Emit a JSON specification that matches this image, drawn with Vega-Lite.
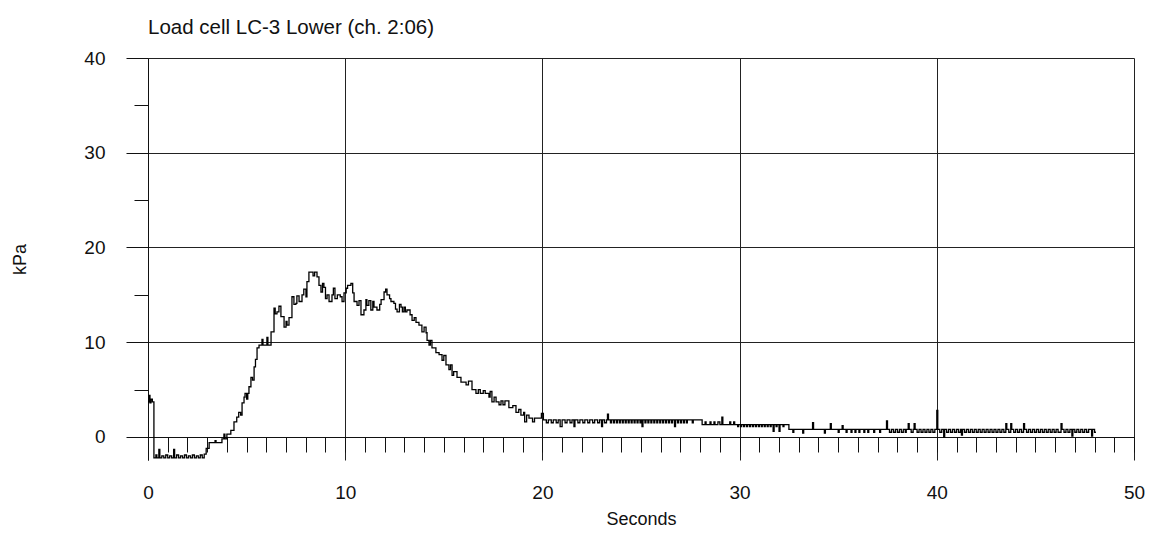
{
  "$schema": "https://vega.github.io/schema/vega-lite/v6.json",
  "width": 986,
  "height": 402,
  "autosize": "none",
  "padding": {"left": 148, "top": 58, "right": 23, "bottom": 73},
  "background": "white",
  "title": {"text": "Load cell LC-3 Lower (ch. 2:06)", "anchor": "start", "frame": "group", "font": "Liberation Sans", "fontSize": 20.5, "fontWeight": "normal", "color": "#111", "offset": 11},
  "data": {"values": [
    {"t":0.00,"kPa":3.7},{"t":0.05,"kPa":4.4},{"t":0.10,"kPa":3.6},{"t":0.15,"kPa":4.0},{"t":0.22,"kPa":3.7},
    {"t":0.30,"kPa":-2.2},{"t":0.40,"kPa":-1.9},{"t":0.45,"kPa":-2.2},{"t":0.55,"kPa":-1.3},{"t":0.60,"kPa":-2.2},
    {"t":0.70,"kPa":-2.0},{"t":0.80,"kPa":-2.2},{"t":0.90,"kPa":-1.9},{"t":1.00,"kPa":-2.2},{"t":1.10,"kPa":-2.0},
    {"t":1.20,"kPa":-2.2},{"t":1.30,"kPa":-1.3},{"t":1.35,"kPa":-2.2},{"t":1.45,"kPa":-1.9},{"t":1.55,"kPa":-2.2},
    {"t":1.65,"kPa":-2.0},{"t":1.75,"kPa":-2.2},{"t":1.85,"kPa":-1.9},{"t":1.95,"kPa":-2.2},{"t":2.05,"kPa":-2.0},
    {"t":2.15,"kPa":-2.2},{"t":2.25,"kPa":-1.9},{"t":2.35,"kPa":-2.2},{"t":2.45,"kPa":-2.0},{"t":2.55,"kPa":-2.2},
    {"t":2.65,"kPa":-1.9},{"t":2.75,"kPa":-2.2},{"t":2.85,"kPa":-1.8},{"t":2.95,"kPa":-1.2},{"t":3.10,"kPa":-0.6},
    {"t":3.40,"kPa":-0.4},{"t":3.45,"kPa":-0.6},{"t":3.75,"kPa":-0.2},{"t":3.85,"kPa":0.3},{"t":3.90,"kPa":-0.2},
    {"t":4.00,"kPa":0.3},{"t":4.20,"kPa":0.7},{"t":4.36,"kPa":1.6},{"t":4.50,"kPa":2.1},{"t":4.60,"kPa":2.6},
    {"t":4.70,"kPa":2.3},{"t":4.77,"kPa":3.6},{"t":4.87,"kPa":4.2},{"t":4.92,"kPa":4.6},{"t":5.00,"kPa":4.0},
    {"t":5.06,"kPa":4.6},{"t":5.12,"kPa":5.3},{"t":5.22,"kPa":6.3},{"t":5.30,"kPa":6.0},{"t":5.38,"kPa":7.4},
    {"t":5.45,"kPa":8.2},{"t":5.53,"kPa":9.4},{"t":5.63,"kPa":9.7},{"t":5.78,"kPa":10.3},{"t":5.83,"kPa":9.7},
    {"t":6.03,"kPa":10.5},{"t":6.08,"kPa":9.7},{"t":6.24,"kPa":11.1},{"t":6.39,"kPa":13.6},{"t":6.45,"kPa":13.0},
    {"t":6.54,"kPa":13.2},{"t":6.64,"kPa":13.8},{"t":6.74,"kPa":12.7},{"t":6.90,"kPa":11.6},{"t":7.00,"kPa":12.2},
    {"t":7.05,"kPa":11.8},{"t":7.15,"kPa":12.6},{"t":7.30,"kPa":14.8},{"t":7.40,"kPa":14.0},{"t":7.50,"kPa":14.1},
    {"t":7.55,"kPa":14.9},{"t":7.66,"kPa":14.3},{"t":7.81,"kPa":15.0},{"t":7.90,"kPa":15.6},{"t":8.01,"kPa":14.8},
    {"t":8.06,"kPa":16.4},{"t":8.16,"kPa":17.4},{"t":8.37,"kPa":17.0},{"t":8.45,"kPa":17.4},{"t":8.57,"kPa":16.9},
    {"t":8.67,"kPa":16.0},{"t":8.77,"kPa":15.3},{"t":8.85,"kPa":16.2},{"t":8.92,"kPa":15.8},{"t":9.00,"kPa":14.6},
    {"t":9.08,"kPa":15.0},{"t":9.18,"kPa":14.3},{"t":9.33,"kPa":15.0},{"t":9.40,"kPa":15.7},{"t":9.48,"kPa":14.6},
    {"t":9.60,"kPa":15.0},{"t":9.75,"kPa":14.8},{"t":9.84,"kPa":14.3},{"t":9.94,"kPa":15.2},{"t":10.05,"kPa":15.7},
    {"t":10.12,"kPa":16.0},{"t":10.29,"kPa":16.2},{"t":10.38,"kPa":15.2},{"t":10.45,"kPa":14.3},{"t":10.60,"kPa":13.9},
    {"t":10.70,"kPa":14.4},{"t":10.80,"kPa":12.9},{"t":10.95,"kPa":13.4},{"t":11.05,"kPa":14.5},{"t":11.10,"kPa":13.9},
    {"t":11.20,"kPa":14.4},{"t":11.30,"kPa":13.4},{"t":11.40,"kPa":14.3},{"t":11.46,"kPa":13.7},{"t":11.61,"kPa":13.4},
    {"t":11.75,"kPa":14.0},{"t":11.82,"kPa":14.5},{"t":11.97,"kPa":15.3},{"t":12.05,"kPa":15.6},{"t":12.12,"kPa":15.0},
    {"t":12.25,"kPa":14.6},{"t":12.32,"kPa":14.3},{"t":12.47,"kPa":14.1},{"t":12.55,"kPa":13.5},{"t":12.63,"kPa":13.2},
    {"t":12.75,"kPa":14.0},{"t":12.83,"kPa":13.7},{"t":12.90,"kPa":13.2},{"t":12.98,"kPa":13.7},{"t":13.05,"kPa":13.2},
    {"t":13.13,"kPa":13.4},{"t":13.29,"kPa":12.9},{"t":13.39,"kPa":12.3},{"t":13.50,"kPa":12.6},{"t":13.59,"kPa":12.1},
    {"t":13.74,"kPa":11.8},{"t":13.89,"kPa":11.1},{"t":14.00,"kPa":11.6},{"t":14.10,"kPa":11.0},{"t":14.15,"kPa":10.2},
    {"t":14.25,"kPa":9.7},{"t":14.32,"kPa":10.2},{"t":14.40,"kPa":9.4},{"t":14.60,"kPa":8.9},{"t":14.76,"kPa":8.7},
    {"t":14.91,"kPa":8.1},{"t":15.00,"kPa":8.6},{"t":15.11,"kPa":7.6},{"t":15.26,"kPa":7.1},{"t":15.34,"kPa":7.6},
    {"t":15.42,"kPa":6.5},{"t":15.50,"kPa":6.9},{"t":15.67,"kPa":6.3},{"t":15.87,"kPa":5.8},{"t":16.13,"kPa":5.5},
    {"t":16.25,"kPa":5.9},{"t":16.43,"kPa":5.0},{"t":16.63,"kPa":4.6},{"t":16.75,"kPa":5.0},{"t":16.85,"kPa":4.6},
    {"t":17.00,"kPa":4.9},{"t":17.10,"kPa":4.6},{"t":17.29,"kPa":4.2},{"t":17.35,"kPa":4.8},{"t":17.44,"kPa":3.7},
    {"t":17.55,"kPa":4.2},{"t":17.65,"kPa":3.7},{"t":17.80,"kPa":3.4},{"t":17.90,"kPa":3.8},{"t":18.00,"kPa":3.4},
    {"t":18.10,"kPa":3.8},{"t":18.30,"kPa":3.1},{"t":18.50,"kPa":3.3},{"t":18.66,"kPa":2.6},{"t":18.80,"kPa":2.9},
    {"t":18.91,"kPa":2.3},{"t":19.05,"kPa":2.6},{"t":19.10,"kPa":1.6},{"t":19.20,"kPa":2.3},{"t":19.32,"kPa":2.0},
    {"t":19.50,"kPa":1.6},{"t":19.60,"kPa":2.0},{"t":19.95,"kPa":2.5},{"t":20.05,"kPa":1.8},
    {"t":20.20,"kPa":1.5},{"t":20.30,"kPa":1.8},{"t":20.45,"kPa":1.5},{"t":20.55,"kPa":1.8},{"t":20.70,"kPa":1.5},
    {"t":20.80,"kPa":1.8},{"t":20.90,"kPa":1.1},{"t":21.00,"kPa":1.8},{"t":21.15,"kPa":1.5},{"t":21.25,"kPa":1.8},
    {"t":21.40,"kPa":1.5},{"t":21.50,"kPa":1.8},{"t":21.60,"kPa":1.1},{"t":21.65,"kPa":1.8},{"t":21.80,"kPa":1.5},
    {"t":21.90,"kPa":1.8},{"t":22.05,"kPa":1.5},{"t":22.15,"kPa":1.8},{"t":22.30,"kPa":1.5},{"t":22.40,"kPa":1.8},
    {"t":22.55,"kPa":1.5},{"t":22.65,"kPa":1.8},{"t":22.80,"kPa":1.5},{"t":22.90,"kPa":1.8},{"t":23.00,"kPa":1.1},
    {"t":23.05,"kPa":1.8},{"t":23.15,"kPa":1.5},{"t":23.25,"kPa":1.8},{"t":23.30,"kPa":2.4},{"t":23.35,"kPa":1.8},
    {"t":23.45,"kPa":1.5},{"t":23.50,"kPa":1.8},{"t":23.60,"kPa":1.5},{"t":23.65,"kPa":1.8},{"t":23.75,"kPa":1.5},
    {"t":23.80,"kPa":1.8},{"t":23.90,"kPa":1.5},{"t":23.95,"kPa":1.8},{"t":24.05,"kPa":1.5},{"t":24.10,"kPa":1.8},
    {"t":24.20,"kPa":1.5},{"t":24.25,"kPa":1.8},{"t":24.35,"kPa":1.5},{"t":24.40,"kPa":1.8},{"t":24.50,"kPa":1.5},
    {"t":24.55,"kPa":1.8},{"t":24.65,"kPa":1.5},{"t":24.70,"kPa":1.8},{"t":24.80,"kPa":1.5},{"t":24.85,"kPa":1.8},
    {"t":24.95,"kPa":1.5},{"t":25.00,"kPa":1.8},{"t":25.05,"kPa":1.1},{"t":25.10,"kPa":1.8},{"t":25.20,"kPa":1.5},
    {"t":25.25,"kPa":1.8},{"t":25.35,"kPa":1.5},{"t":25.40,"kPa":1.8},{"t":25.50,"kPa":1.5},{"t":25.55,"kPa":1.8},
    {"t":25.65,"kPa":1.5},{"t":25.70,"kPa":1.8},{"t":25.80,"kPa":1.5},{"t":25.85,"kPa":1.8},{"t":25.95,"kPa":1.5},
    {"t":26.00,"kPa":1.8},{"t":26.10,"kPa":1.5},{"t":26.15,"kPa":1.8},{"t":26.25,"kPa":1.5},{"t":26.30,"kPa":1.8},
    {"t":26.40,"kPa":1.5},{"t":26.45,"kPa":1.8},{"t":26.55,"kPa":1.5},{"t":26.60,"kPa":1.8},{"t":26.70,"kPa":1.1},
    {"t":26.75,"kPa":1.8},{"t":26.85,"kPa":1.5},{"t":26.90,"kPa":1.8},{"t":27.00,"kPa":1.5},{"t":27.05,"kPa":1.8},
    {"t":27.15,"kPa":1.5},{"t":27.20,"kPa":1.8},{"t":27.30,"kPa":1.5},{"t":27.35,"kPa":1.8},{"t":27.60,"kPa":1.5},
    {"t":27.65,"kPa":1.8},{"t":28.10,"kPa":1.3},{"t":28.25,"kPa":1.6},{"t":28.30,"kPa":1.3},{"t":28.50,"kPa":1.6},
    {"t":28.55,"kPa":1.3},{"t":28.70,"kPa":1.6},{"t":28.75,"kPa":1.3},{"t":28.90,"kPa":1.6},{"t":29.00,"kPa":1.3},
    {"t":29.10,"kPa":2.1},{"t":29.15,"kPa":1.3},{"t":29.50,"kPa":1.6},{"t":29.55,"kPa":1.3},{"t":29.70,"kPa":1.6},
    {"t":29.75,"kPa":1.3},{"t":29.90,"kPa":1.1},{"t":29.95,"kPa":1.3},{"t":30.05,"kPa":1.1},{"t":30.10,"kPa":1.3},
    {"t":30.20,"kPa":1.1},{"t":30.25,"kPa":1.3},{"t":30.35,"kPa":1.1},{"t":30.40,"kPa":1.3},{"t":30.50,"kPa":1.1},
    {"t":30.55,"kPa":1.3},{"t":30.65,"kPa":1.1},{"t":30.70,"kPa":1.3},{"t":30.80,"kPa":1.1},{"t":30.85,"kPa":1.3},
    {"t":30.95,"kPa":1.1},{"t":31.00,"kPa":1.3},{"t":31.10,"kPa":1.1},{"t":31.15,"kPa":1.3},{"t":31.25,"kPa":1.1},
    {"t":31.30,"kPa":1.3},{"t":31.40,"kPa":1.1},{"t":31.45,"kPa":1.3},{"t":31.55,"kPa":1.1},{"t":31.60,"kPa":1.3},
    {"t":31.70,"kPa":0.6},{"t":31.75,"kPa":1.3},{"t":31.85,"kPa":1.1},{"t":31.90,"kPa":1.3},{"t":32.00,"kPa":0.6},
    {"t":32.05,"kPa":1.3},{"t":32.20,"kPa":1.1},{"t":32.25,"kPa":1.3},{"t":32.50,"kPa":0.8},{"t":32.70,"kPa":0.5},
    {"t":32.75,"kPa":0.8},{"t":33.20,"kPa":0.4},{"t":33.25,"kPa":0.8},{"t":33.70,"kPa":1.5},{"t":33.75,"kPa":0.8},
    {"t":34.30,"kPa":0.4},{"t":34.35,"kPa":0.8},{"t":34.60,"kPa":1.4},{"t":34.65,"kPa":0.8},{"t":35.00,"kPa":0.5},
    {"t":35.05,"kPa":0.8},{"t":35.20,"kPa":1.2},{"t":35.25,"kPa":0.8},{"t":35.40,"kPa":0.5},{"t":35.45,"kPa":0.8},
    {"t":35.65,"kPa":0.5},{"t":35.70,"kPa":0.8},{"t":35.85,"kPa":0.5},{"t":35.90,"kPa":0.8},{"t":36.05,"kPa":0.5},
    {"t":36.10,"kPa":0.8},{"t":36.30,"kPa":0.5},{"t":36.35,"kPa":0.8},{"t":36.50,"kPa":0.5},{"t":36.55,"kPa":0.8},
    {"t":36.80,"kPa":0.5},{"t":36.85,"kPa":0.8},{"t":37.10,"kPa":0.5},{"t":37.15,"kPa":0.8},{"t":37.45,"kPa":1.7},
    {"t":37.50,"kPa":0.8},{"t":37.60,"kPa":0.5},{"t":37.70,"kPa":0.8},{"t":37.80,"kPa":0.5},{"t":37.90,"kPa":0.8},
    {"t":38.00,"kPa":0.5},{"t":38.10,"kPa":0.8},{"t":38.20,"kPa":0.5},{"t":38.30,"kPa":0.8},{"t":38.40,"kPa":0.5},
    {"t":38.45,"kPa":0.8},{"t":38.55,"kPa":1.4},{"t":38.60,"kPa":0.8},{"t":38.70,"kPa":0.5},{"t":38.80,"kPa":0.8},
    {"t":38.85,"kPa":1.4},{"t":38.90,"kPa":0.8},{"t":39.00,"kPa":0.5},{"t":39.10,"kPa":0.8},{"t":39.20,"kPa":0.5},
    {"t":39.30,"kPa":0.8},{"t":39.40,"kPa":0.5},{"t":39.50,"kPa":0.8},{"t":39.60,"kPa":0.5},{"t":39.70,"kPa":0.8},
    {"t":39.80,"kPa":0.5},{"t":39.90,"kPa":0.8},{"t":40.00,"kPa":2.8},{"t":40.05,"kPa":0.8},{"t":40.15,"kPa":0.5},
    {"t":40.25,"kPa":0.8},{"t":40.35,"kPa":0.0},{"t":40.40,"kPa":0.8},{"t":40.50,"kPa":0.5},{"t":40.60,"kPa":0.8},
    {"t":40.70,"kPa":0.5},{"t":40.80,"kPa":0.8},{"t":40.90,"kPa":0.5},{"t":41.00,"kPa":0.8},{"t":41.10,"kPa":0.5},
    {"t":41.20,"kPa":0.8},{"t":41.25,"kPa":0.2},{"t":41.30,"kPa":0.8},{"t":41.40,"kPa":0.5},{"t":41.50,"kPa":0.8},
    {"t":41.60,"kPa":0.5},{"t":41.70,"kPa":0.8},{"t":41.80,"kPa":0.5},{"t":41.90,"kPa":0.8},{"t":42.00,"kPa":0.5},
    {"t":42.10,"kPa":0.8},{"t":42.20,"kPa":0.5},{"t":42.30,"kPa":0.8},{"t":42.40,"kPa":0.5},{"t":42.50,"kPa":0.8},
    {"t":42.60,"kPa":0.5},{"t":42.70,"kPa":0.8},{"t":42.80,"kPa":0.5},{"t":42.90,"kPa":0.8},{"t":43.00,"kPa":0.5},
    {"t":43.10,"kPa":0.8},{"t":43.20,"kPa":0.5},{"t":43.30,"kPa":0.8},{"t":43.40,"kPa":0.5},{"t":43.50,"kPa":1.4},
    {"t":43.55,"kPa":0.8},{"t":43.65,"kPa":0.5},{"t":43.75,"kPa":1.4},{"t":43.80,"kPa":0.8},{"t":43.90,"kPa":0.5},
    {"t":44.00,"kPa":0.8},{"t":44.10,"kPa":0.5},{"t":44.20,"kPa":0.8},{"t":44.30,"kPa":0.5},{"t":44.40,"kPa":1.4},
    {"t":44.45,"kPa":0.8},{"t":44.55,"kPa":0.5},{"t":44.65,"kPa":0.8},{"t":44.75,"kPa":0.5},{"t":44.85,"kPa":0.8},
    {"t":44.95,"kPa":0.5},{"t":45.05,"kPa":0.8},{"t":45.15,"kPa":0.5},{"t":45.25,"kPa":0.8},{"t":45.35,"kPa":0.5},
    {"t":45.45,"kPa":0.8},{"t":45.55,"kPa":0.5},{"t":45.65,"kPa":0.8},{"t":45.75,"kPa":0.5},{"t":45.85,"kPa":0.8},
    {"t":45.95,"kPa":0.5},{"t":46.05,"kPa":0.8},{"t":46.15,"kPa":0.5},{"t":46.30,"kPa":1.4},{"t":46.35,"kPa":0.8},
    {"t":46.45,"kPa":0.5},{"t":46.55,"kPa":0.8},{"t":46.65,"kPa":0.5},{"t":46.75,"kPa":0.8},{"t":46.85,"kPa":0.1},
    {"t":46.90,"kPa":0.8},{"t":47.00,"kPa":0.5},{"t":47.10,"kPa":0.8},{"t":47.20,"kPa":0.5},{"t":47.30,"kPa":0.8},
    {"t":47.40,"kPa":0.5},{"t":47.50,"kPa":0.8},{"t":47.60,"kPa":0.5},{"t":47.70,"kPa":0.8},{"t":47.85,"kPa":0.1},
    {"t":47.90,"kPa":0.8},{"t":48.00,"kPa":0.5},{"t":48.07,"kPa":0.5}
  ]},
  "mark": {"type": "line", "interpolate": "step-after", "color": "#000", "strokeWidth": 1.3, "clip": true},
  "encoding": {
    "x": {
      "field": "t", "type": "quantitative",
      "scale": {"domain": [0, 50], "nice": false, "zero": false},
      "axis": {
        "values": [0,1,2,3,4,5,6,7,8,9,10,11,12,13,14,15,16,17,18,19,20,21,22,23,24,25,26,27,28,29,30,31,32,33,34,35,36,37,38,39,40,41,42,43,44,45,46,47,48,49,50],
        "title": "Seconds",
        "offset": -23,
        "tickSize": 15,
        "tickColor": "#111",
        "tickWidth": 1,
        "domainColor": "#111",
        "domainWidth": 1,
        "grid": true,
        "gridColor": "#222",
        "gridWidth": 1,
        "gridOpacity": {"condition": {"test": "datum.value % 10 === 0", "value": 1}, "value": 0},
        "labelExpr": "datum.value % 10 === 0 ? datum.label : ''",
        "labelFont": "Liberation Sans",
        "labelFontSize": 19,
        "labelColor": "#111",
        "labelPadding": 31,
        "labelFlush": false,
        "labelOverlap": false,
        "titleFont": "Liberation Sans",
        "titleFontSize": 18,
        "titleFontWeight": "normal",
        "titleColor": "#111",
        "titlePadding": 8
      }
    },
    "y": {
      "field": "kPa", "type": "quantitative",
      "scale": {"domain": [-2.43, 40], "nice": false, "zero": false},
      "axis": {
        "values": [0,5,10,15,20,25,30,35,40],
        "title": "kPa",
        "tickSize": {"condition": {"test": "datum.value % 10 === 0", "value": 22}, "value": 14},
        "tickColor": "#111",
        "domainColor": "#111",
        "grid": true,
        "gridColor": "#222",
        "gridOpacity": {"condition": {"test": "datum.value % 10 === 0", "value": 1}, "value": 0},
        "labelExpr": "datum.value % 10 === 0 ? datum.label : ''",
        "labelFont": "Liberation Sans",
        "labelFontSize": 19,
        "labelColor": "#111",
        "labelPadding": 21,
        "labelFlush": false,
        "labelOverlap": false,
        "titleFont": "Liberation Sans",
        "titleFontSize": 18,
        "titleFontWeight": "normal",
        "titleColor": "#111",
        "titlePadding": 54
      }
    }
  },
  "config": {"view": {"stroke": null}}
}
